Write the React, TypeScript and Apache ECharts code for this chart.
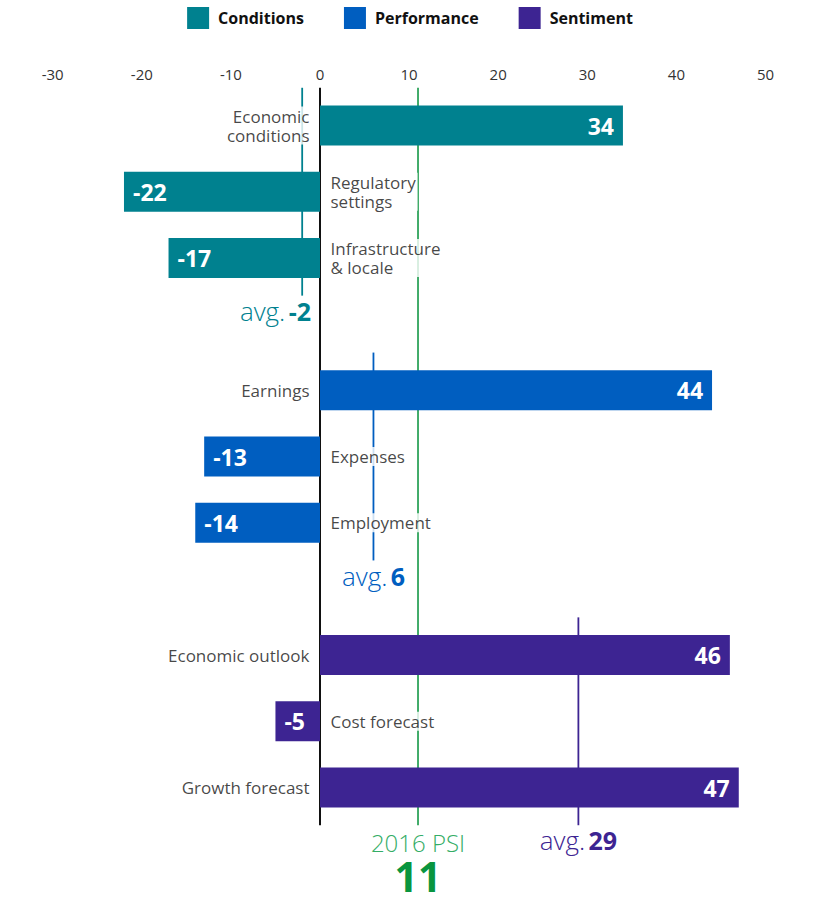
import React, { useEffect, useRef } from "react";
import * as echarts from "echarts";

const conditionsNames = ["Economic\nconditions", "Regulatory\nsettings", "Infrastructure\n& locale"];
const conditionsValues = [34, -22, -17];
const performanceNames = ["Earnings", "Expenses", "Employment"];
const performanceValues = [44, -13, -14];
const sentimentNames = ["Economic outlook", "Cost forecast", "Growth forecast"];
const sentimentValues = [46, -5, 47];
const groupNames = ["Conditions", "Performance", "Sentiment"];
const groupAverages = [-2, 6, 29];
const psiLabel = "2016 PSI";
const psiValue = 11;
const xMin = -30;
const xMax = 50;
const xInterval = 10;

const groupColors = ["#00818f", "#005ec0", "#3d2492"];
const psiLineColor = "#2ea35a";
const psiTextColor = "#34ad66";
const psiValueColor = "#09953f";
const FONT = "'Open Sans', 'Noto Sans', sans-serif";

type Row = { name: string; value: number; group: number } | null;

function buildRows(): Row[] {
  const groups = [
    { names: conditionsNames, values: conditionsValues },
    { names: performanceNames, values: performanceValues },
    { names: sentimentNames, values: sentimentValues },
  ];
  const rows: Row[] = [];
  groups.forEach((g, gi) => {
    if (gi > 0) rows.push(null);
    g.names.forEach((n, i) => rows.push({ name: n, value: g.values[i], group: gi }));
  });
  return rows;
}

export default function App() {
  const ref = useRef<HTMLDivElement>(null);
  useEffect(() => {
    if (!ref.current) return;
    const chart = echarts.init(ref.current, undefined, { renderer: "svg" });
    const rows = buildRows();
    const categories = rows.map((r, i) => (r ? r.name : `gap${i}`));
    const lastRow = rows.length - 1;

    const groupRange = groupNames.map((_, gi) => {
      const idx = rows.map((r, i) => (r && r.group === gi ? i : -1)).filter((i) => i >= 0);
      return [idx[0], idx[idx.length - 1]];
    });

    // reference lines: [x, firstRow, lastRow]
    const refKinds: string[] = ["zero", "psi", "g0", "g1", "g2"];
    const refData = [
      [0, 0, lastRow],
      [psiValue, 0, lastRow],
      ...groupAverages.map((a, gi) => [a, groupRange[gi][0], groupRange[gi][1]]),
    ];

    const barSeries = groupNames.map((name, gi) => ({
      name,
      type: "bar",
      stack: "all",
      barWidth: 40,
      itemStyle: { color: groupColors[gi] },
      z: 3,
      label: {
        show: true,
        color: "#fff",
        fontFamily: FONT,
        fontWeight: "bold",
        fontSize: 23,
        distance: 9,
      },
      data: rows.map((r) =>
        r && r.group === gi
          ? { value: r.value, label: { position: r.value >= 0 ? "insideRight" : "insideLeft" } }
          : null
      ),
    }));

    const labelData = rows
      .map((r, i) =>
        r
          ? {
              name: r.name,
              value: [0, i],
              label: { position: r.value >= 0 ? "left" : "right" },
            }
          : null
      )
      .filter((d) => d !== null);

    const option: any = {
      animation: false,
      backgroundColor: "#ffffff",
      legend: {
        data: groupNames,
        top: 2,
        left: "center",
        itemWidth: 22,
        itemHeight: 22,
        itemGap: 40,
        icon: "rect",
        textStyle: {
          fontFamily: FONT,
          fontSize: 16,
          fontWeight: "bold",
          color: "#111",
          padding: [0, 0, 0, 4],
        },
      },
      grid: { left: 52.7, right: 54.5, top: 92.4, bottom: 79.4, containLabel: false },
      xAxis: {
        type: "value",
        position: "top",
        min: xMin,
        max: xMax,
        interval: xInterval,
        axisLine: { show: false },
        axisTick: { show: false },
        splitLine: { show: false },
        axisLabel: { fontFamily: FONT, fontSize: 15, color: "#333", margin: 11 },
      },
      yAxis: {
        type: "category",
        inverse: true,
        data: categories,
        axisLine: { show: false },
        axisTick: { show: false },
        axisLabel: { show: false },
        splitLine: { show: false },
      },
      series: [
        {
          type: "custom",
          clip: false,
          silent: true,
          z: 1,
          encode: { x: 0, y: 1 },
          data: refData,
          renderItem: (params: any, api: any) => {
            const kind = refKinds[params.dataIndex];
            const x = api.value(0) as number;
            const r0 = api.value(1);
            const r1 = api.value(2);
            const p0 = api.coord([x, r0]);
            const p1 = api.coord([x, r1]);
            const band = api.size([0, 1])[1];
            const top = p0[1] - band * 0.57;
            const bottom = p1[1] + band * 0.57;
            let color = "#111";
            if (kind === "psi") color = psiLineColor;
            if (kind.startsWith("g")) color = groupColors[Number(kind.slice(1))];
            const children: any[] = [
              {
                type: "line",
                shape: { x1: p0[0], y1: top, x2: p0[0], y2: bottom },
                style: { stroke: color, lineWidth: kind === "zero" ? 2 : 1.8 },
              },
            ];
            if (kind.startsWith("g")) {
              const zeroX = api.coord([0, r1])[0];
              const neg = x < 0;
              children.push({
                type: "text",
                style: {
                  text: `{a|avg.} {b|${x}}`,
                  x: neg ? zeroX - 9 : p0[0],
                  y: p1[1] + band * 0.8,
                  align: neg ? "right" : "center",
                  textAlign: neg ? "right" : "center",
                  verticalAlign: "middle",
                  textVerticalAlign: "middle",
                  rich: {
                    a: { fontFamily: FONT, fontSize: 26, fontWeight: 300, fill: color, color },
                    b: { fontFamily: FONT, fontSize: 25, fontWeight: "bold", fill: color, color },
                  },
                },
              });
            }
            if (kind === "psi") {
              children.push({
                type: "text",
                style: {
                  text: psiLabel,
                  x: p0[0],
                  y: bottom + 17,
                  align: "center",
                  textAlign: "center",
                  verticalAlign: "middle",
                  textVerticalAlign: "middle",
                  fontFamily: FONT,
                  fontSize: 24,
                  lineHeight: 24,
                  fontWeight: 300,
                  fill: psiTextColor,
                },
              });
              children.push({
                type: "text",
                style: {
                  text: String(x),
                  x: p0[0],
                  y: bottom + 51,
                  align: "center",
                  textAlign: "center",
                  verticalAlign: "middle",
                  textVerticalAlign: "middle",
                  fontFamily: FONT,
                  fontSize: 41,
                  lineHeight: 34,
                  fontWeight: "bold",
                  fill: psiValueColor,
                },
              });
            }
            return { type: "group", children };
          },
        },
        ...barSeries,
        {
          type: "scatter",
          silent: true,
          symbolSize: 1,
          itemStyle: { color: "rgba(0,0,0,0)" },
          z: 5,
          data: labelData,
          label: {
            show: true,
            formatter: "{b}",
            distance: 8,
            fontFamily: FONT,
            fontSize: 17,
            lineHeight: 19,
            color: "#151515",
            backgroundColor: "#fff",
            padding: [0, 2],
          },
        },
      ],
    };
    chart.setOption(option);
    return () => chart.dispose();
  }, []);
  return (
    <div
      ref={ref}
      style={{ position: "fixed", left: 0, top: 0, width: 820, height: 900 }}
    />
  );
}
